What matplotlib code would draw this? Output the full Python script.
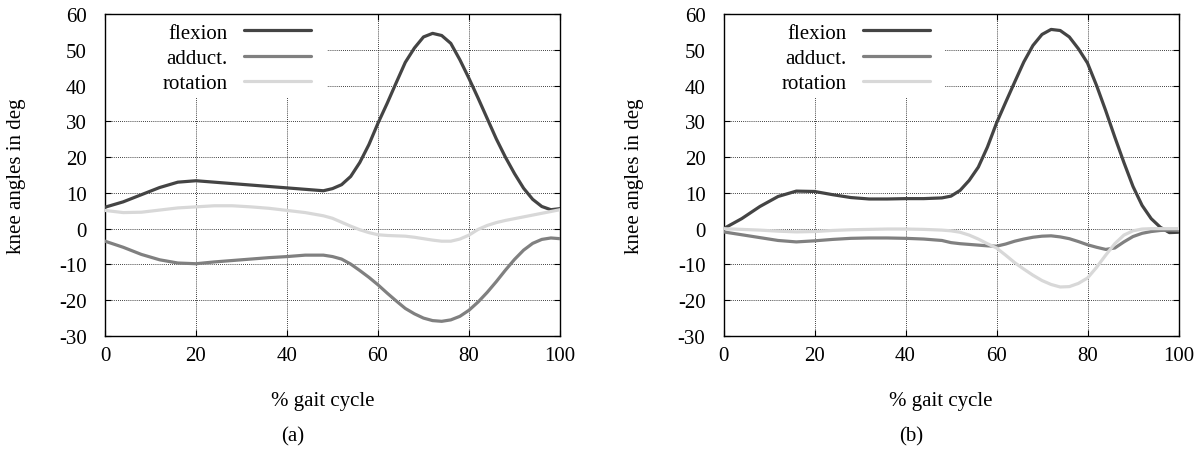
import numpy as np
import matplotlib
matplotlib.use("Agg")
import matplotlib.pyplot as plt
from matplotlib.patches import Rectangle

plt.rcParams['font.family'] = ['Liberation Serif', 'DejaVu Serif']
plt.rcParams['axes.unicode_minus'] = False

# ======================== data ========================
gait = [0, 4, 8, 12, 16, 20, 24, 28, 32, 36, 40, 44, 48,
        50, 52, 54, 56, 58, 60, 62, 64, 66, 68, 70, 72, 74,
        76, 78, 80, 82, 84, 86, 88, 90, 92, 94, 96, 98, 100]

# panel (a)
flex_a = [6.0, 7.5, 9.5, 11.5, 13.0, 13.4, 13.0, 12.6, 12.2, 11.8, 11.4, 11.0, 10.6,
          11.2, 12.3, 14.6, 18.5, 23.5, 29.5, 35.0, 40.8, 46.5, 50.5, 53.6, 54.6, 54.0,
          51.8, 47.2, 42.0, 36.5, 30.8, 25.1, 20.0, 15.4, 11.3, 8.2, 6.2, 5.3, 5.6]
addu_a = [-3.5, -5.2, -7.2, -8.7, -9.6, -9.8, -9.3, -8.9, -8.5, -8.1, -7.8, -7.4, -7.4,
          -7.8, -8.5, -9.9, -11.7, -13.6, -15.7, -18.0, -20.2, -22.3, -23.8, -25.0, -25.7, -25.9,
          -25.5, -24.5, -22.8, -20.5, -17.8, -14.8, -11.6, -8.6, -6.0, -4.1, -3.0, -2.6, -2.8]
rota_a = [5.1, 4.5, 4.6, 5.2, 5.8, 6.1, 6.4, 6.4, 6.1, 5.7, 5.1, 4.5, 3.6,
          2.9, 1.8, 0.7, -0.3, -1.1, -1.7, -1.9, -2.0, -2.1, -2.4, -2.8, -3.2, -3.5,
          -3.5, -2.9, -1.8, -0.2, 0.9, 1.7, 2.3, 2.8, 3.3, 3.8, 4.3, 4.8, 5.3]

# panel (b)
flex_b = [0.0, 2.8, 6.2, 9.0, 10.5, 10.4, 9.5, 8.7, 8.3, 8.3, 8.4, 8.4, 8.6,
          9.1, 10.7, 13.5, 17.2, 22.8, 29.5, 35.3, 41.0, 46.6, 51.2, 54.3, 55.7, 55.4,
          53.6, 50.3, 46.3, 40.0, 33.0, 25.6, 18.5, 11.8, 6.5, 2.8, 0.4, -1.1, -1.0]
addu_b = [-0.9, -1.7, -2.5, -3.3, -3.7, -3.4, -3.0, -2.7, -2.6, -2.6, -2.7, -2.9, -3.3,
          -3.9, -4.2, -4.4, -4.6, -4.8, -4.9, -4.3, -3.5, -2.9, -2.4, -2.1, -2.0, -2.3,
          -2.8, -3.6, -4.5, -5.2, -5.8, -5.4, -3.7, -2.2, -1.3, -0.8, -0.5, -0.4, -0.5]
rota_b = [0.0, -0.2, -0.4, -0.7, -0.9, -0.8, -0.5, -0.3, -0.2, -0.1, -0.1, -0.2, -0.4,
          -0.6, -1.0, -1.8, -2.9, -4.2, -5.4, -7.4, -9.5, -11.3, -13.0, -14.5, -15.6, -16.3,
          -16.2, -15.3, -13.8, -10.8, -7.4, -4.2, -1.8, -0.6, -0.1, 0.0, 0.0, 0.0, 0.0]

labels = ['flexion', 'adduct.', 'rotation']
colors = ['#444444', '#808080', '#d8d8d8']
xticks = [0, 20, 40, 60, 80, 100]
yticks = [-30, -20, -10, 0, 10, 20, 30, 40, 50, 60]

FS = 15

fig = plt.figure(figsize=(11.98, 4.56), dpi=100)
ax_a = fig.add_axes([105 / 1198, 0.261, 455 / 1198, 0.706])
ax_b = fig.add_axes([723.5 / 1198, 0.261, 455 / 1198, 0.706])


def draw_panel(ax, series, caption, cap_x):
    ax.set_xlim(0, 100)
    ax.set_ylim(-30, 60)
    ax.set_xticks(xticks)
    ax.set_yticks(yticks)
    ax.set_axisbelow(True)
    ax.grid(True, linestyle=(0, (1, 1.5)), linewidth=0.6, color='black')
    # white box behind the key (hides the grid there, like gnuplot)
    ax.add_patch(Rectangle((0, 0.742), 0.487, 0.258, transform=ax.transAxes,
                           facecolor='white', edgecolor='none', zorder=1))
    for y, lab, c in zip(series, labels, colors):
        ax.plot(gait, y, color=c, lw=2.3, label=lab, zorder=3,
                solid_joinstyle='round', solid_capstyle='round')
    ax.tick_params(direction='in', top=True, right=True, length=4, width=0.8,
                   labelsize=FS, pad=7)
    ax.tick_params(axis='y', pad=13)
    for sp in ax.spines.values():
        sp.set_linewidth(1.0)
    ax.set_xlabel('% gait cycle', fontsize=FS)
    ax.xaxis.set_label_coords(0.478, -0.171)
    ax.set_ylabel('knee angles in deg', fontsize=FS)
    ax.yaxis.set_label_coords(-0.174, 0.5)
    leg = ax.legend(loc='upper right', bbox_to_anchor=(0.453, 0.972), frameon=False,
                    markerfirst=False, fontsize=FS, handlelength=3.2, handletextpad=0.8,
                    labelspacing=0.27, borderpad=0, borderaxespad=0)
    leg.set_zorder(4)
    fig.text(cap_x, 0.042, caption, ha='center', va='center', fontsize=FS)


draw_panel(ax_a, [flex_a, addu_a, rota_a], '(a)', 293 / 1198)
draw_panel(ax_b, [flex_b, addu_b, rota_b], '(b)', 911 / 1198)

fig.savefig('out.png', dpi=100)
